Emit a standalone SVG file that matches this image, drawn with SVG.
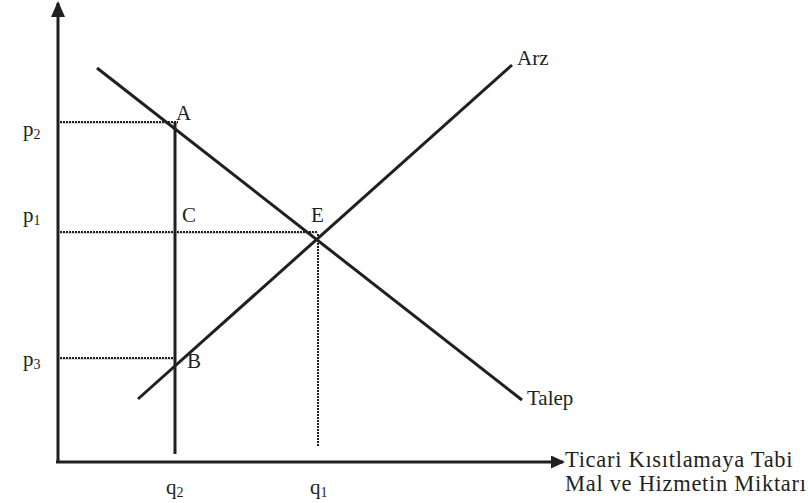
<svg xmlns="http://www.w3.org/2000/svg" width="808" height="503" viewBox="0 0 808 503">
<style>
text{font-family:"Liberation Serif","Times New Roman",serif;font-size:21px;fill:#231f20}
.sub{font-size:14px}
.ax{font-size:22.5px;letter-spacing:0.7px}
.ln{stroke:#231f20;stroke-width:3;fill:none}
.dot{stroke:#231f20;stroke-width:2;stroke-dasharray:2 1;fill:none}
.gr{stroke:#c8c8c8;stroke-width:1.5;fill:none}
</style>
<defs>
<marker id="ah" markerWidth="14" markerHeight="13" refX="12" refY="6.5" orient="auto" markerUnits="userSpaceOnUse"><path d="M0,0 L14,6.5 L0,13 Z" fill="#231f20"/></marker>
<marker id="ahs" markerWidth="16" markerHeight="14" refX="14" refY="7" orient="auto" markerUnits="userSpaceOnUse"><path d="M0,0 L16,7 L0,14 Z" fill="#231f20"/></marker>
</defs>
<g id="connectors">
<line class="ln" x1="58" y1="462" x2="58" y2="3" marker-end="url(#ahs)"/>
<line class="ln" x1="56" y1="462" x2="563" y2="462" marker-end="url(#ah)"/>
<line class="gr" x1="60" y1="123" x2="178" y2="123"/>
<line class="dot" x1="60" y1="122" x2="178" y2="122"/>
<line class="gr" x1="60" y1="233" x2="318" y2="233"/>
<line class="dot" x1="60" y1="232" x2="318" y2="232"/>
<line class="gr" x1="60" y1="359" x2="175" y2="359"/>
<line class="dot" x1="60" y1="358" x2="175" y2="358"/>
<line class="dot" x1="318" y1="234" x2="318" y2="447"/>
<line class="ln" x1="175" y1="122" x2="175" y2="454"/>
</g>
<g id="talep"><line class="ln" x1="97" y1="68" x2="522" y2="400"/><text x="527" y="405">Talep</text></g>
<g id="arz"><line class="ln" x1="138" y1="399" x2="512" y2="65"/><text x="517" y="65">Arz</text></g>
<g id="labels">
<text x="176" y="120">A</text>
<text x="182" y="222">C</text>
<text x="311" y="222">E</text>
<text x="187" y="368">B</text>
<text x="23" y="136">p<tspan class="sub" dy="3">2</tspan></text>
<text x="23" y="222">p<tspan class="sub" dy="3">1</tspan></text>
<text x="23" y="366">p<tspan class="sub" dy="3">3</tspan></text>
<text x="166" y="494">q<tspan class="sub" dy="3">2</tspan></text>
<text x="310" y="494">q<tspan class="sub" dy="3">1</tspan></text>
<text class="ax" x="565" y="467">Ticari Kısıtlamaya Tabi</text>
<text class="ax" x="565" y="491">Mal ve Hizmetin Miktarı</text>
</g>
</svg>
